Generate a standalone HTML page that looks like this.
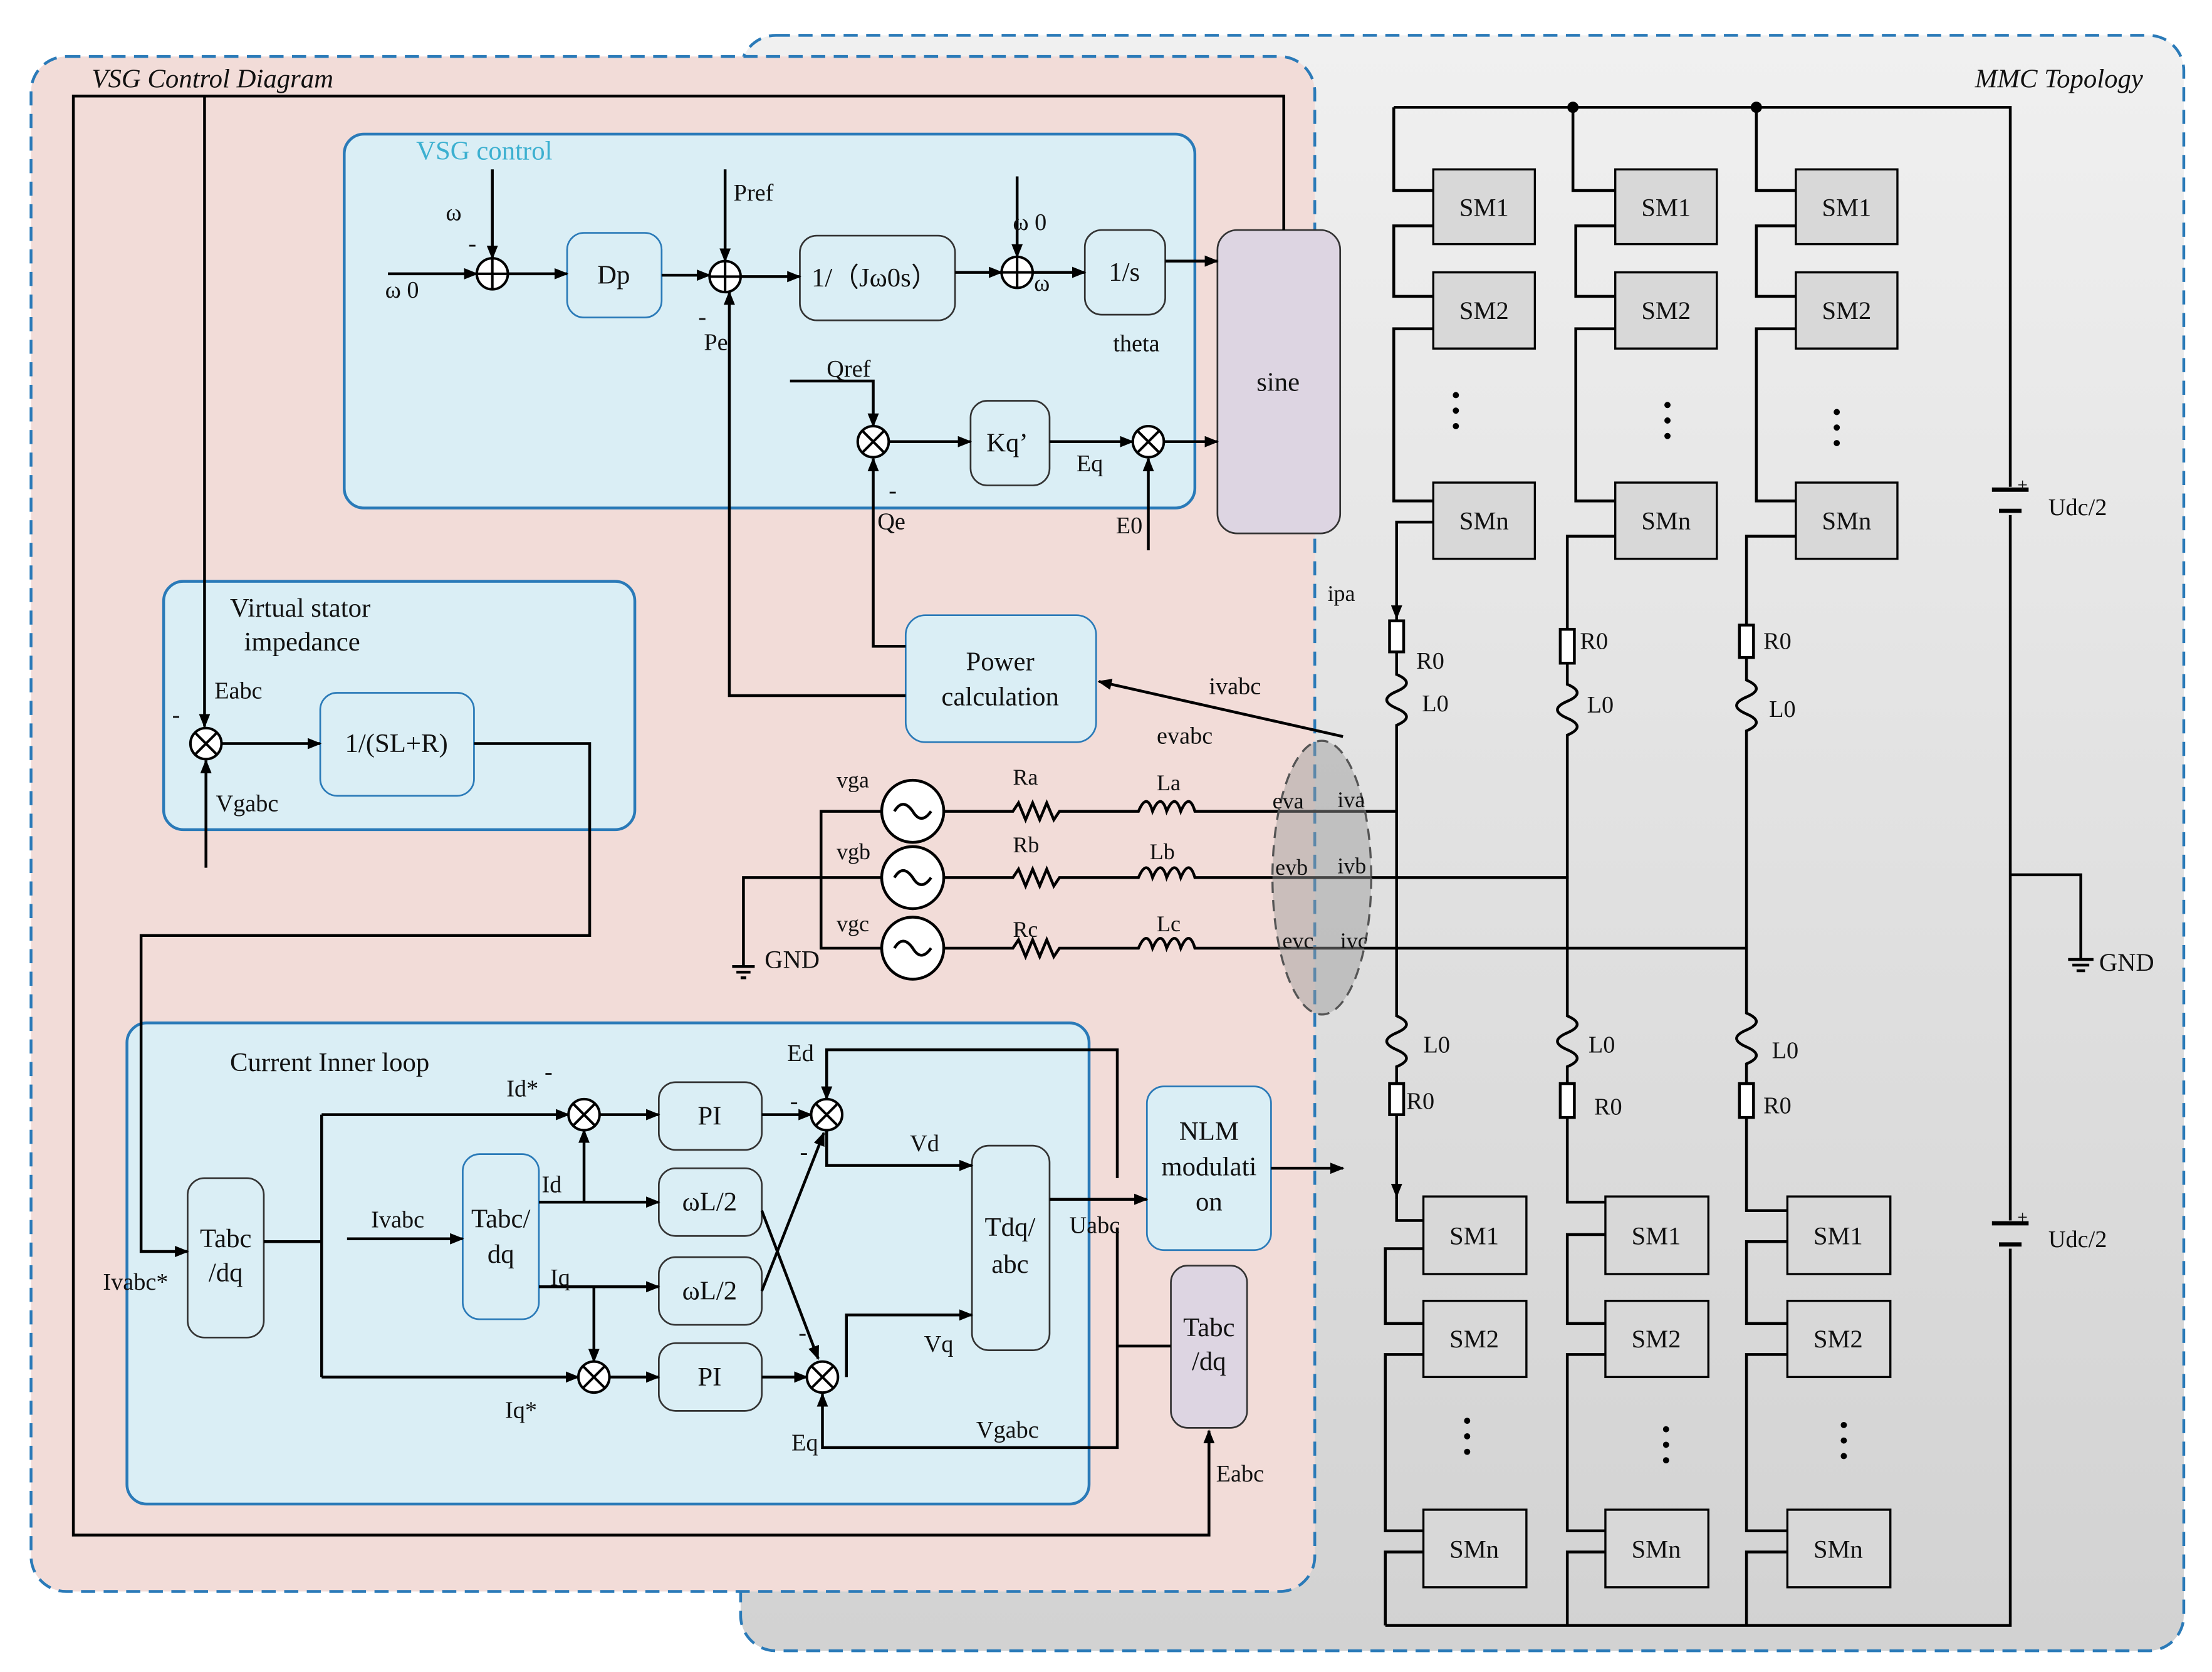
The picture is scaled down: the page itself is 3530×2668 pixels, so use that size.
<!DOCTYPE html>
<html><head><meta charset="utf-8"><style>
html,body{margin:0;padding:0;background:#fff;}
svg{display:block;}
text{font-family:"Liberation Serif",serif;fill:#111;}
</style></head><body>
<svg width="3530" height="2668" viewBox="0 0 1568 1185" xmlns="http://www.w3.org/2000/svg">
<defs>
<marker id="a" markerWidth="10" markerHeight="8" refX="9" refY="4" orient="auto" markerUnits="userSpaceOnUse"><path d="M0,0 L10,4 L0,8 z" fill="#000"/></marker>
<linearGradient id="g" x1="0" y1="0" x2="0" y2="1"><stop offset="0" stop-color="#f0f0f0"/><stop offset="1" stop-color="#d2d2d2"/></linearGradient>
</defs>
<rect width="1568" height="1185" fill="#fff"/>
<!-- MMC region -->
<rect x="525" y="25" width="1023" height="1145" rx="25" fill="url(#g)" stroke="#2a7ab8" stroke-width="2" stroke-dasharray="10,6"/>
<text x="1400" y="62" font-size="19" font-style="italic">MMC  Topology</text>
<!-- VSG region -->
<rect x="22" y="40" width="910" height="1088" rx="25" fill="#f2dcd8" stroke="#2a7ab8" stroke-width="2" stroke-dasharray="10,6"/>
<text x="65" y="62" font-size="19" font-style="italic">VSG Control Diagram</text>

<!-- subboxes -->
<rect x="244" y="95" width="603" height="265" rx="14" fill="#daeef5" stroke="#2a7ab8" stroke-width="2"/>
<text x="295" y="113" font-size="19" fill="#3cb0d0" style="fill:#3cb0d0">VSG control</text>
<rect x="116" y="412" width="334" height="176" rx="14" fill="#daeef5" stroke="#2a7ab8" stroke-width="2"/>
<text x="163" y="437" font-size="19">Virtual stator</text>
<text x="173" y="461" font-size="19">impedance</text>
<rect x="90" y="725" width="682" height="341" rx="14" fill="#daeef5" stroke="#2a7ab8" stroke-width="2"/>
<text x="163" y="759" font-size="19">Current Inner loop</text>

<g fill="#daeef5" stroke="#2a7ab8" stroke-width="1.2">
<rect x="402" y="165" width="67" height="60" rx="12"/>
<rect x="642" y="436" width="135" height="90" rx="14"/>
<rect x="227" y="491" width="109" height="73" rx="12"/>
<rect x="813" y="770" width="88" height="116" rx="12"/>
</g>
<g fill="#daeef5" stroke="#333" stroke-width="1.2">
<rect x="567" y="167" width="110" height="60" rx="12"/>
<rect x="769" y="163" width="57" height="60" rx="12"/>
<rect x="688" y="284" width="56" height="60" rx="12"/>
<rect x="133" y="835" width="54" height="113" rx="12"/>
<rect x="467" y="767" width="73" height="48" rx="12"/>
<rect x="467" y="828" width="73" height="48" rx="12"/>
<rect x="467" y="891" width="73" height="48" rx="12"/>
<rect x="467" y="952" width="73" height="48" rx="12"/>
<rect x="689" y="812" width="55" height="145" rx="12"/>
</g>
<rect x="328" y="818" width="54" height="117" rx="12" fill="#daeef5" stroke="#2a7ab8" stroke-width="1.2"/>
<rect x="863" y="163" width="87" height="215" rx="14" fill="#ddd5e2" stroke="#333" stroke-width="1.2"/>
<rect x="830" y="897" width="54" height="115" rx="12" fill="#ddd5e2" stroke="#333" stroke-width="1.2"/>

<g font-size="19" text-anchor="middle">
<text x="435" y="201">Dp</text>
<text x="620" y="203">1/（Jω0s）</text>
<text x="797" y="199">1/s</text>
<text x="906" y="277">sine</text>
<text x="714" y="320">Kq’</text>
<text x="709" y="475">Power</text>
<text x="709" y="500">calculation</text>
<text x="281" y="533">1/(SL+R)</text>
<text x="160" y="884">Tabc</text>
<text x="160" y="908">/dq</text>
<text x="355" y="870">Tabc/</text>
<text x="355" y="895">dq</text>
<text x="503" y="797">PI</text>
<text x="503" y="858">ωL/2</text>
<text x="503" y="921">ωL/2</text>
<text x="503" y="982">PI</text>
<text x="716" y="876">Tdq/</text>
<text x="716" y="902">abc</text>
<text x="857" y="808">NLM</text>
<text x="857" y="833">modulati</text>
<text x="857" y="858">on</text>
<text x="857" y="947">Tabc</text>
<text x="857" y="971">/dq</text>
</g>

<!-- control wiring -->
<g stroke="#000" stroke-width="2" fill="none">
<path d="M275,194 H338" marker-end="url(#a)"/>
<path d="M349,120 V183" marker-end="url(#a)"/>
<path d="M360,194 H402" marker-end="url(#a)"/>
<path d="M469,195 H503" marker-end="url(#a)"/>
<path d="M514,120 V185" marker-end="url(#a)"/>
<path d="M642,493 H517 V207" marker-end="url(#a)"/>
<path d="M525,196 H567" marker-end="url(#a)"/>
<path d="M677,193 H710" marker-end="url(#a)"/>
<path d="M721,125 V182" marker-end="url(#a)"/>
<path d="M732,193 H769" marker-end="url(#a)"/>
<path d="M826,185 H863" marker-end="url(#a)"/>
<path d="M560,270 H619 V302" marker-end="url(#a)"/>
<path d="M642,458 H619 V325" marker-end="url(#a)"/>
<path d="M630,313 H688" marker-end="url(#a)"/>
<path d="M744,313 H803" marker-end="url(#a)"/>
<path d="M814,390 V325" marker-end="url(#a)"/>
<path d="M825,313 H863" marker-end="url(#a)"/>
<path d="M952,522 L779,483" marker-end="url(#a)"/>
<path d="M910,163 V68 H52 V1088 H857 V1014" marker-end="url(#a)"/>
<path d="M145,68 V515" marker-end="url(#a)"/>
<path d="M146,615 V539" marker-end="url(#a)"/>
<path d="M157,527 H227" marker-end="url(#a)"/>
<path d="M336,527 H418 V663 H100 V887 H133" marker-end="url(#a)"/>
<path d="M187,880 H228 M228,790 V976"/>
<path d="M228,790 H403" marker-end="url(#a)"/>
<path d="M228,976 H410" marker-end="url(#a)"/>
<path d="M246,878 H328" marker-end="url(#a)"/>
<path d="M382,852 H467" marker-end="url(#a)"/>
<path d="M414,852 V801" marker-end="url(#a)"/>
<path d="M382,912 H467" marker-end="url(#a)"/>
<path d="M421,912 V965" marker-end="url(#a)"/>
<path d="M425,790 H467" marker-end="url(#a)"/>
<path d="M432,976 H467" marker-end="url(#a)"/>
<path d="M540,790 H575" marker-end="url(#a)"/>
<path d="M540,976 H572" marker-end="url(#a)"/>
<path d="M540,858 L580,963" marker-end="url(#a)"/>
<path d="M540,915 L584,803" marker-end="url(#a)"/>
<path d="M792,835 V744 H586 V779" marker-end="url(#a)"/>
<path d="M792,870 V1026 H583 V988" marker-end="url(#a)"/>
<path d="M586,801 V826 H689" marker-end="url(#a)"/>
<path d="M600,976 V932 H689" marker-end="url(#a)"/>
<path d="M744,850 H813" marker-end="url(#a)"/>
<path d="M901,828 H952" marker-end="url(#a)"/>
<path d="M792,954 H830"/>
</g>
<!-- summers -->
<g stroke="#000" stroke-width="1.8" fill="#fff">
<g><circle cx="349" cy="194" r="11"/><path d="M338,194H360M349,183V205"/></g>
<g><circle cx="514" cy="196" r="11"/><path d="M503,196H525M514,185V207"/></g>
<g><circle cx="721" cy="193" r="11"/><path d="M710,193H732M721,182V204"/></g>
<g><circle cx="619" cy="313" r="11"/><path d="M611,305L627,321M627,305L611,321"/></g>
<g><circle cx="814" cy="313" r="11"/><path d="M806,305L822,321M822,305L806,321"/></g>
<g><circle cx="146" cy="527" r="11"/><path d="M138,519L154,535M154,519L138,535"/></g>
<g><circle cx="414" cy="790" r="11"/><path d="M406,782L422,798M422,782L406,798"/></g>
<g><circle cx="586" cy="790" r="11"/><path d="M578,782L594,798M594,782L578,798"/></g>
<g><circle cx="421" cy="976" r="11"/><path d="M413,968L429,984M429,968L413,984"/></g>
<g><circle cx="583" cy="976" r="11"/><path d="M575,968L591,984M591,968L575,984"/></g>
</g>
<g font-size="17">
<text x="316" y="156">ω</text><text x="332" y="178">-</text>
<text x="273" y="211">ω 0</text>
<text x="520" y="142">Pref</text>
<text x="495" y="230">-</text><text x="499" y="248">Pe</text>
<text x="718" y="163">ω 0</text><text x="733" y="206">ω</text>
<text x="789" y="249">theta</text>
<text x="586" y="267">Qref</text>
<text x="630" y="353">-</text><text x="622" y="375">Qe</text>
<text x="763" y="334">Eq</text>
<text x="791" y="378">E0</text>
<text x="857" y="492">ivabc</text>
<text x="820" y="527">evabc</text>
<text x="152" y="495">Eabc</text>
<text x="122" y="512">-</text>
<text x="153" y="575">Vgabc</text>
<text x="359" y="777">Id*</text><text x="386" y="765">-</text>
<text x="263" y="870">Ivabc</text>
<text x="384" y="845">Id</text>
<text x="390" y="911">Iq</text>
<text x="73" y="914">Ivabc*</text>
<text x="358" y="1005">Iq*</text>
<text x="558" y="752">Ed</text>
<text x="560" y="786">-</text><text x="567" y="822">-</text>
<text x="645" y="816">Vd</text>
<text x="566" y="950">-</text>
<text x="655" y="958">Vq</text>
<text x="758" y="874">Uabc</text>
<text x="561" y="1028">Eq</text>
<text x="692" y="1019">Vgabc</text>
<text x="862" y="1050">Eabc</text>
</g>

<!-- grid sources -->
<g stroke="#000" stroke-width="2" fill="none">
<path d="M625,575 H582 V672 H625"/>
<path d="M625,622 H527 V685"/>
<path d="M519,685 H535 M522,689 H532 M525,693 H529"/>
<path d="M669,575 H718 l4,-6 l5,12 l5,-12 l5,12 l5,-12 l5,12 l4,-6 H807 q6,-14 10,0 q6,-14 10,0 q6,-14 10,0 q6,-14 10,0 H990"/>
<path d="M669,622 H718 l4,-6 l5,12 l5,-12 l5,12 l5,-12 l5,12 l4,-6 H807 q6,-14 10,0 q6,-14 10,0 q6,-14 10,0 q6,-14 10,0 H1112"/>
<path d="M669,672 H718 l4,-6 l5,12 l5,-12 l5,12 l5,-12 l5,12 l4,-6 H807 q6,-14 10,0 q6,-14 10,0 q6,-14 10,0 q6,-14 10,0 H1238"/>
</g>
<g stroke="#000" stroke-width="2" fill="#fff">
<circle cx="647" cy="575" r="22"/><circle cx="647" cy="622" r="22"/><circle cx="647" cy="672" r="22"/>
</g>
<g stroke="#000" stroke-width="2" fill="none">
<path d="M634,575 q6,-10 13,0 q6,10 13,0"/><path d="M634,622 q6,-10 13,0 q6,10 13,0"/><path d="M634,672 q6,-10 13,0 q6,10 13,0"/>
</g>
<ellipse cx="937" cy="622" rx="35" ry="97" fill="#999" fill-opacity="0.45" stroke="#555" stroke-width="1.5" stroke-dasharray="8,5"/>
<g font-size="16">
<text x="593" y="558">vga</text><text x="593" y="609">vgb</text><text x="593" y="660">vgc</text>
<text x="542" y="686" font-size="18">GND</text>
<text x="718" y="556">Ra</text><text x="718" y="604">Rb</text><text x="718" y="664">Rc</text>
<text x="820" y="560">La</text><text x="815" y="609">Lb</text><text x="820" y="660">Lc</text>
<text x="902" y="573">eva</text><text x="948" y="572">iva</text>
<text x="904" y="620">evb</text><text x="948" y="619">ivb</text>
<text x="909" y="672">evc</text><text x="950" y="672">ivc</text>
<text x="941" y="426">ipa</text>
</g>

<!-- MMC wiring -->
<g stroke="#000" stroke-width="2" fill="none">
<path d="M988,76 H1425 V345 M1425,365 V620 H1475 V680 M1425,620 V865 M1425,885 V1152 H982"/>
<path d="M1412,347 H1438 M1417,362 H1433" stroke-width="3"/>
<path d="M1412,867 H1438 M1417,882 H1433" stroke-width="3"/>
<path d="M1466,680 H1484 M1469,684 H1481 M1472,688 H1478"/>
<!-- column 1 upper -->
<path d="M988,76 V135 H1016 M1016,160 H988 V210 H1016 M1016,233 H988 V355 H1016 M1016,370 H990 V440"/>
<path d="M990,420 V438" marker-end="url(#a)"/>
<path d="M990,462 V478 q14,6 0,12 q-14,6 0,12 q14,6 0,12 V720 q14,6 0,12 q-14,6 0,12 q14,6 0,12 V768 M990,790 V850"/>
<path d="M990,820 V848" marker-end="url(#a)"/>
<path d="M990,850 V865 H1009 M1009,885 H982 V938 H1009 M1009,960 H982 V1085 H1009 M1009,1100 H982 V1152"/>
<!-- column 2 -->
<path d="M1115,76 V135 H1145 M1145,160 H1117 V210 H1145 M1145,233 H1117 V355 H1145 M1145,380 H1111 V446 M1111,470 V485 q14,6 0,12 q-14,6 0,12 q14,6 0,12 V720 q14,6 0,12 q-14,6 0,12 q14,6 0,12 V768 M1111,792 V852 H1138 M1138,875 H1111 V938 H1138 M1138,960 H1111 V1085 H1138 M1138,1100 H1111 V1152"/>
<!-- column 3 -->
<path d="M1245,76 V135 H1273 M1273,160 H1245 V210 H1273 M1273,233 H1245 V355 H1273 M1273,380 H1238 V443 M1238,466 V482 q14,6 0,12 q-14,6 0,12 q14,6 0,12 V718 q14,6 0,12 q-14,6 0,12 q14,6 0,12 V768 M1238,792 V858 H1267 M1267,880 H1238 V938 H1267 M1267,960 H1238 V1085 H1267 M1267,1100 H1238 V1152"/>
</g>
<g stroke="#000" stroke-width="2" fill="#fff">
<rect x="985" y="440" width="10" height="22"/><rect x="985" y="768" width="10" height="22"/>
<rect x="1106" y="446" width="10" height="24"/><rect x="1106" y="768" width="10" height="24"/>
<rect x="1233" y="443" width="10" height="23"/><rect x="1233" y="768" width="10" height="24"/>
</g>
<circle cx="1115" cy="76" r="4"/><circle cx="1245" cy="76" r="4"/>
<g fill="#d8d8d8" stroke="#000" stroke-width="1.5">
<rect x="1016" y="120" width="72" height="53"/><rect x="1016" y="193" width="72" height="54"/><rect x="1016" y="342" width="72" height="54"/>
<rect x="1145" y="120" width="72" height="53"/><rect x="1145" y="193" width="72" height="54"/><rect x="1145" y="342" width="72" height="54"/>
<rect x="1273" y="120" width="72" height="53"/><rect x="1273" y="193" width="72" height="54"/><rect x="1273" y="342" width="72" height="54"/>
<rect x="1009" y="848" width="73" height="55"/><rect x="1009" y="922" width="73" height="54"/><rect x="1009" y="1070" width="73" height="55"/>
<rect x="1138" y="848" width="73" height="55"/><rect x="1138" y="922" width="73" height="54"/><rect x="1138" y="1070" width="73" height="55"/>
<rect x="1267" y="848" width="73" height="55"/><rect x="1267" y="922" width="73" height="54"/><rect x="1267" y="1070" width="73" height="55"/>
</g>
<g font-size="18" text-anchor="middle">
<text x="1052" y="153">SM1</text><text x="1052" y="226">SM2</text><text x="1052" y="375">SMn</text>
<text x="1181" y="153">SM1</text><text x="1181" y="226">SM2</text><text x="1181" y="375">SMn</text>
<text x="1309" y="153">SM1</text><text x="1309" y="226">SM2</text><text x="1309" y="375">SMn</text>
<text x="1045" y="882">SM1</text><text x="1045" y="955">SM2</text><text x="1045" y="1104">SMn</text>
<text x="1174" y="882">SM1</text><text x="1174" y="955">SM2</text><text x="1174" y="1104">SMn</text>
<text x="1303" y="882">SM1</text><text x="1303" y="955">SM2</text><text x="1303" y="1104">SMn</text>
</g>
<g fill="#000">
<circle cx="1032" cy="280" r="2.2"/><circle cx="1032" cy="291" r="2.2"/><circle cx="1032" cy="302" r="2.2"/>
<circle cx="1182" cy="287" r="2.2"/><circle cx="1182" cy="298" r="2.2"/><circle cx="1182" cy="309" r="2.2"/>
<circle cx="1302" cy="292" r="2.2"/><circle cx="1302" cy="303" r="2.2"/><circle cx="1302" cy="314" r="2.2"/>
<circle cx="1040" cy="1007" r="2.2"/><circle cx="1040" cy="1018" r="2.2"/><circle cx="1040" cy="1029" r="2.2"/>
<circle cx="1181" cy="1013" r="2.2"/><circle cx="1181" cy="1024" r="2.2"/><circle cx="1181" cy="1035" r="2.2"/>
<circle cx="1307" cy="1010" r="2.2"/><circle cx="1307" cy="1021" r="2.2"/><circle cx="1307" cy="1032" r="2.2"/>
</g>
<g font-size="17">
<text x="1004" y="474">R0</text><text x="1008" y="504">L0</text>
<text x="1120" y="460">R0</text><text x="1125" y="505">L0</text>
<text x="1250" y="460">R0</text><text x="1254" y="508">L0</text>
<text x="1009" y="746">L0</text><text x="997" y="786">R0</text>
<text x="1126" y="746">L0</text><text x="1130" y="790">R0</text>
<text x="1256" y="750">L0</text><text x="1250" y="789">R0</text>
<text x="1452" y="365">Udc/2</text><text x="1430" y="348" font-size="13">+</text>
<text x="1452" y="884">Udc/2</text><text x="1430" y="867" font-size="13">+</text>
<text x="1488" y="688" font-size="18">GND</text>
</g>
</svg>
</body></html>
